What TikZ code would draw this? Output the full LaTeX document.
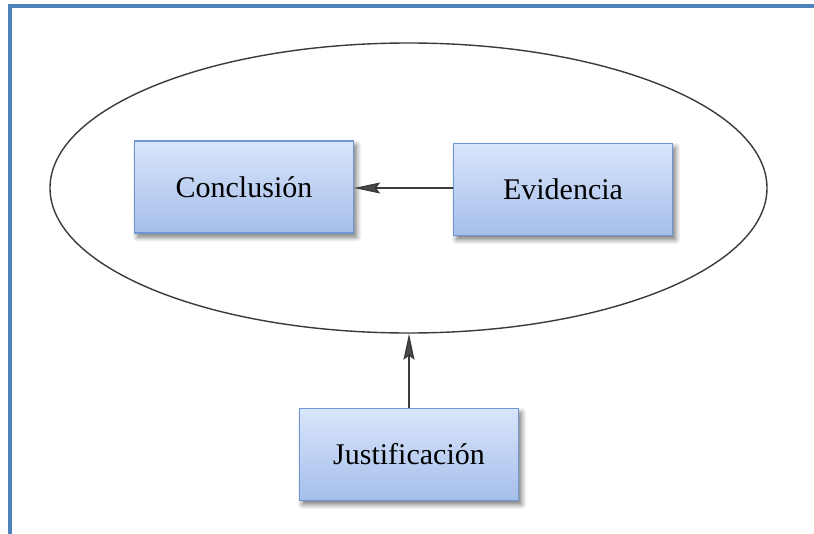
\documentclass[tikz,border=0pt]{standalone}
\usepackage{fontspec}
\setmainfont{Liberation Serif}
\usetikzlibrary{shapes.geometric,arrows.meta,shadows.blur}
\definecolor{frameblue}{HTML}{4F81BD}
\definecolor{boxtop}{HTML}{D9E5FB}
\definecolor{boxbot}{HTML}{A5BEEA}
\definecolor{boxedge}{HTML}{6E96D4}
\definecolor{linegray}{HTML}{3A3A3A}
\definecolor{tipgray}{HTML}{4A4A4A}
\tikzset{
  stepbox/.style={rectangle, draw=boxedge, line width=1.2pt,
    top color=boxtop, bottom color=boxbot,
    minimum width=219pt, minimum height=92pt, inner sep=0pt,
    font=\fontsize{30}{36}\selectfont,
    blur shadow={shadow xshift=3pt, shadow yshift=-4pt, shadow blur steps=8, shadow blur radius=5pt, shadow opacity=55}},
  link/.style={draw=linegray, line width=1.4pt,
    -{Stealth[length=26pt, width=11pt, inset=4pt, fill=tipgray]}},
}
\begin{document}
\begin{tikzpicture}[x=1pt, y=-1pt]
  \useasboundingbox (0,0) rectangle (814,533);
  % frame along the top and left edges
  \draw[frameblue, line width=3.5pt] (10,540) -- (10,6) -- (820,6);
  % enclosing ellipse
  \node[ellipse, draw=linegray, line width=1.4pt, minimum width=717pt, minimum height=290pt, inner sep=0pt] (ell) at (408.5,188) {};
  % boxes
  \node[stepbox] (concl) at (244,187) {Conclusión};
  \node[stepbox] (evid) at (563,189.5) {Evidencia};
  \node[stepbox] (just) at (409,454.5) {Justificación};
  % connectors
  \draw[link] (evid.west |- 0,188) -- (concl.east |- 0,188);
  \draw[link] (just.north) -- (just.north |- ell.south);
\end{tikzpicture}
\end{document}
